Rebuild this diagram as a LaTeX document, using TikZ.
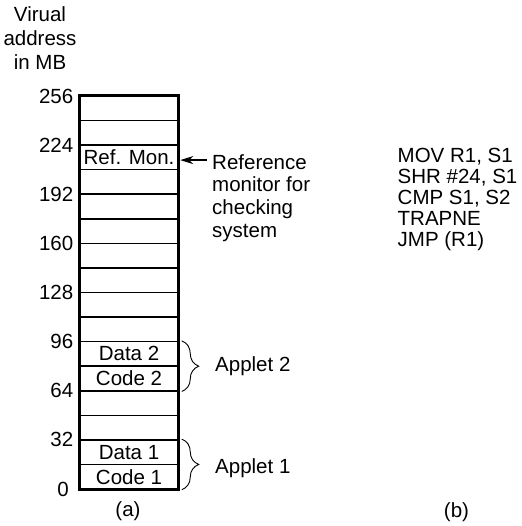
\documentclass[tikz,border=0pt]{standalone}
\usepackage{fontspec}
\setmainfont{Liberation Sans}
\usetikzlibrary{arrows.meta,decorations.pathreplacing}
\begin{document}
\begin{tikzpicture}[x=1pt,y=-1pt,
  txt/.style={font=\fontsize{20.5}{24}\selectfont, inner sep=0pt},
  code/.style={font=\fontsize{20.5}{21}\selectfont, inner sep=0pt, align=left, anchor=base west},
  cell/.style={draw, line width=1.5pt, minimum width=98pt, minimum height=24.5625pt, inner sep=0pt,
               font=\fontsize{20.5}{24}\selectfont},
  outer/.style={line width=2.3pt},
  bracket/.style={decorate, decoration={brace, amplitude=17pt}, line width=0.9pt},
  pointer/.style={line width=1.3pt, -{Stealth[length=13pt, width=8pt, inset=4pt]}}]
\useasboundingbox (0,0) rectangle (521,526);

% axis title (base anchor = last line)
\node[txt, align=center, anchor=base] (title) at (40,70) {Virual\\address\\in MB};

% memory cells
\foreach \k/\t in {0/,1/,2/Ref. Mon.,3/,4/,5/,6/,7/,8/,9/,10/Data 2,11/Code 2,12/,13/,14/Data 1,15/Code 1}
  \node[cell] (c\k) at (129,{96+(\k+0.5)*24.5625}) {\t};
\draw[outer] (c0.north west) rectangle (c15.south east);

% address labels
\foreach \v/\k in {256/0,224/2,192/4,160/6,128/8,96/10,64/12,32/14}
  \node[txt, anchor=east] (a\v) at (73.5,{96+\k*24.5625}) {\v};
\node[txt, anchor=east] (a0) at (69,489) {0};

% reference monitor note (base anchor = last line)
\node[txt, align=left, anchor=base west, font=\fontsize{20.5}{22.6}\selectfont] (reftext) at (212,237.1)
  {Reference\\monitor for\\checking\\system};
\coordinate (arrowstart) at ([xshift=-5.5pt,yshift=77pt]reftext.base west);
\draw[pointer] (arrowstart) -- ([xshift=1.5pt]arrowstart -| c2.east);

% applets
\draw[bracket] ([xshift=3pt]c10.north east) -- ([xshift=3pt]c11.south east);
\node[txt, anchor=base west] (app2) at (215,371.7) {Applet 2};
\draw[bracket] ([xshift=3pt]c14.north east) -- ([xshift=3pt]c15.south east);
\node[txt, anchor=base west] (app1) at (215,473.3) {Applet 1};

% code
\node[code] (prog) at (397.5,246.7) {MOV R1, S1\\SHR \#24, S1\\CMP S1, S2\\TRAPNE\\JMP (R1)};

% captions
\node[txt] (capa) at (128,511) {(a)};
\node[txt] (capb) at (456.5,512) {(b)};
\end{tikzpicture}
\end{document}
